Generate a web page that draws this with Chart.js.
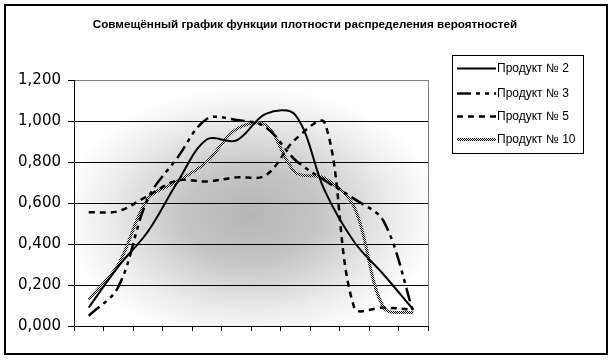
<!DOCTYPE html>
<html>
<head>
<meta charset="utf-8">
<script src="https://cdn.jsdelivr.net/npm/chart.js@4.4.1/dist/chart.umd.min.js"></script>
<style>
  html, body { margin: 0; padding: 0; background: #fff; }
  #wrap { width: 613px; height: 361px; }
</style>
</head>
<body>
<div id="wrap"><canvas id="myChart" width="613" height="361"></canvas></div>
<script>
// categories (no labels shown on the x axis)
const categories = ['1', '2', '3', '4', '5', '6', '7', '8', '9', '10', '11', '12'];

// series values
const product2 = [0.09, 0.29, 0.46, 0.70, 0.91, 0.905, 1.035, 1.03, 0.66, 0.41, 0.25, 0.08];
const product3 = [0.05, 0.19, 0.62, 0.82, 1.01, 1.005, 0.97, 0.81, 0.71, 0.62, 0.51, 0.07];
const product5 = [0.555, 0.56, 0.635, 0.71, 0.705, 0.725, 0.735, 0.91, 0.99, 0.09, 0.09, 0.08];
const product10 = [0.13, 0.30, 0.62, 0.705, 0.80, 0.96, 0.98, 0.75, 0.72, 0.58, 0.09, 0.065];

const seriesNames = ['Продукт № 2', 'Продукт № 3', 'Продукт № 5', 'Продукт № 10'];
const yTicks = [0, 0.2, 0.4, 0.6, 0.8, 1.0, 1.2];
const chartTitle = 'Совмещённый график функции плотности распределения вероятностей';

// dithered pattern for the "Продукт № 10" line
const pc = document.createElement('canvas');
pc.width = 2; pc.height = 2;
const pctx = pc.getContext('2d');
pctx.fillStyle = '#e8e8e8';
pctx.fillRect(0, 0, 2, 2);
pctx.fillStyle = '#000';
pctx.fillRect(0, 0, 1, 1);
pctx.fillRect(1, 1, 1, 1);
const ditherPattern = pctx.createPattern(pc, 'repeat');

const ctx = document.getElementById('myChart').getContext('2d');

const backgroundPlugin = {
    id: 'background',
    beforeDraw(chart) {
        const c = chart.ctx;
        const a = chart.chartArea;
        c.save();
        c.fillStyle = '#fff';
        c.fillRect(0, 0, chart.width, chart.height);
        // outer frame
        c.strokeStyle = '#000';
        c.lineWidth = 2;
        c.strokeRect(5, 5, 602, 349);
        // plot area gradient from centre
        const cx = 251, cy = 215;
        const rx = 190, ry = 130;
        c.beginPath();
        c.rect(a.left, a.top, a.right - a.left, a.bottom - a.top);
        c.clip();
        c.translate(cx, cy);
        c.scale(rx / ry, 1);
        const g = c.createRadialGradient(0, 0, 0, 0, 0, ry);
        g.addColorStop(0, '#b6b6b6');
        g.addColorStop(0.35, '#c4c4c4');
        g.addColorStop(0.75, '#ececec');
        g.addColorStop(1, '#ffffff');
        c.fillStyle = g;
        c.fillRect(-cx * 2, -cy * 2, 1200, 800);
        c.restore();
        // plot area right border
        c.save();
        c.strokeStyle = '#808080';
        c.lineWidth = 1;
        c.beginPath();
        c.moveTo(Math.round(a.right) + 0.5, a.top);
        c.lineTo(Math.round(a.right) + 0.5, a.bottom);
        c.stroke();
        c.restore();
    }
};

const legendPlugin = {
    id: 'boxLegend',
    afterDraw(chart) {
        const c = chart.ctx;
        c.save();
        // title
        c.fillStyle = '#000';
        c.font = 'bold 11.7px "Liberation Sans", Arial, sans-serif';
        c.textAlign = 'center';
        c.textBaseline = 'middle';
        c.fillText(chartTitle, 305, 24.5);
        // legend box
        c.strokeStyle = '#000';
        c.lineWidth = 1;
        c.strokeRect(452.5, 55.5, 131, 98);
        const rows = [68, 93, 116, 139];
        chart.data.datasets.forEach((ds, i) => {
            const y = rows[i] + 0.5;
            c.save();
            c.strokeStyle = ds.borderColor;
            c.lineWidth = ds.borderWidth;
            c.setLineDash(ds.borderDash || []);
            c.beginPath();
            c.moveTo(457, y);
            c.lineTo(496, y);
            c.stroke();
            c.restore();
            c.fillStyle = '#000';
            c.font = '12px "Liberation Sans", Arial, sans-serif';
            c.textBaseline = 'middle';
            c.textAlign = 'left';
            c.fillText(ds.label, 497, y + 0.5);
        });
        c.restore();
    }
};

let myChart = new Chart(ctx, {
    type: 'line',
    data: {
        labels: categories,
        datasets: [{
            label: seriesNames[0],
            data: product2,
            borderColor: '#000',
            borderWidth: 2
        }, {
            label: seriesNames[1],
            data: product3,
            borderColor: '#000',
            borderWidth: 2.5,
            borderDash: [14, 5, 4, 5, 4, 5]
        }, {
            label: seriesNames[2],
            data: product5,
            borderColor: '#000',
            borderWidth: 2.5,
            borderDash: [6, 5]
        }, {
            label: seriesNames[3],
            data: product10,
            borderColor: ditherPattern,
            borderWidth: 3
        }]
    },
    options: {
        responsive: false,
        animation: false,
        devicePixelRatio: 1,
        layout: { padding: { left: 0, right: 185, top: 80, bottom: 25 } },
        elements: {
            point: { radius: 0, hoverRadius: 0 },
            line: { tension: 0.35, fill: false }
        },
        plugins: {
            legend: { display: false },
            tooltip: { enabled: false },
            title: { display: false }
        },
        scales: {
            x: {
                type: 'category',
                offset: true,
                grid: {
                    offset: true,
                    drawOnChartArea: false,
                    drawTicks: true,
                    tickLength: 5,
                    color: '#000'
                },
                border: { color: '#000', width: 1 },
                ticks: { display: false },
                afterFit(scale) { scale.height = 10; }
            },
            y: {
                min: 0,
                max: 1.2,
                afterBuildTicks(scale) {
                    scale.ticks = yTicks.map(v => ({ value: v }));
                },
                grid: {
                    color: (c) => (c.tick && c.tick.value === 1.2 ? '#808080' : '#000'),
                    tickColor: '#000',
                    tickLength: 6,
                    lineWidth: 1
                },
                border: { color: '#000', width: 1 },
                ticks: {
                    color: '#000',
                    padding: 7,
                    font: { family: '"DejaVu Sans", sans-serif', size: 15 },
                    callback: (v) => Number(v).toFixed(3).replace('.', ',')
                },
                afterFit(scale) { scale.width = 74; }
            }
        }
    },
    plugins: [backgroundPlugin, legendPlugin]
});
</script>
</body>
</html>
